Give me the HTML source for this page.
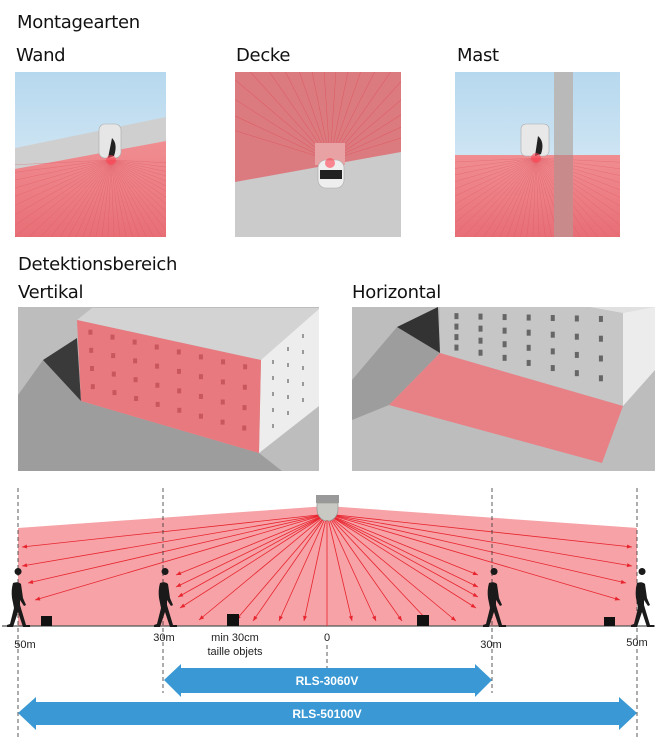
<!DOCTYPE html>
<html><head><meta charset="utf-8"><style>
html,body{margin:0;padding:0;background:#fff;}
body{width:658px;height:737px;overflow:hidden;position:relative;font-family:"Liberation Sans",sans-serif;}
.t{position:absolute;font-family:"DejaVu Sans","Liberation Sans",sans-serif;font-size:18px;color:#111;letter-spacing:-0.3px;}
</style></head><body>
<svg width="658" height="737" viewBox="0 0 658 737" style="position:absolute;left:0;top:0">
<defs>
<linearGradient id="sky" x1="0" y1="0" x2="0" y2="1"><stop offset="0" stop-color="#b6d8ee"/><stop offset="1" stop-color="#e4f0f8"/></linearGradient>
<linearGradient id="red" x1="0" y1="0" x2="0" y2="1"><stop offset="0" stop-color="#f08e92"/><stop offset="1" stop-color="#e86e76"/></linearGradient>
<clipPath id="c1"><rect x="15" y="72" width="151" height="165"/></clipPath>
<clipPath id="c2"><rect x="235" y="72" width="166" height="165"/></clipPath>
<clipPath id="c3"><rect x="455" y="72" width="165" height="165"/></clipPath>
<clipPath id="c4"><rect x="18" y="307" width="301" height="164"/></clipPath>
<clipPath id="c5"><rect x="352" y="307" width="303" height="164"/></clipPath>
</defs>

<g clip-path="url(#c1)">
<rect x="15" y="72" width="151" height="165" fill="url(#sky)"/>
<polygon points="15,148 166,117 166,237 15,237" fill="#cfcfcf"/>
<polygon points="15,169 166,141 166,237 15,237" fill="url(#red)"/>
<g stroke="#d9505a" stroke-width="0.4" opacity="0.6" id="w1"></g>
<rect x="99" y="124" width="22" height="34" rx="6" fill="#e6e6e6" stroke="#aaa" stroke-width="0.6"/>
<path d="M112 138 q6 6 2 18 l-6 2 z" fill="#222"/>
<circle cx="111" cy="160" r="5" fill="#ff4050" opacity="0.6"/>
</g>
<g clip-path="url(#c2)">
<rect x="235" y="72" width="166" height="165" fill="#cbcbcb"/>
<polygon points="235,72 401,72 401,152 235,182" fill="#db7b80"/>
<g id="w2" stroke="#e0525c" stroke-width="0.6" opacity="0.7"></g>
<rect x="315" y="143" width="30" height="22" fill="#e9a2a4"/>
<rect x="318" y="160" width="26" height="28" rx="8" fill="#eee" stroke="#aaa" stroke-width="0.6"/>
<rect x="320" y="170" width="22" height="9" fill="#222"/>
<circle cx="330" cy="163" r="5" fill="#ff4050" opacity="0.6"/>
</g>
<g clip-path="url(#c3)">
<rect x="455" y="72" width="165" height="165" fill="url(#sky)"/>
<polygon points="455,155 620,155 620,237 455,237" fill="url(#red)"/>
<g id="w3" stroke="#d9505a" stroke-width="0.4" opacity="0.6"></g>
<rect x="554" y="72" width="19" height="165" fill="#b9b9b9"/>
<rect x="554" y="155" width="19" height="82" fill="#c98a8c"/>
<rect x="521" y="124" width="28" height="32" rx="5" fill="#e8e8e8" stroke="#aaa" stroke-width="0.6"/>
<path d="M538 136 q7 6 3 18 l-6 2 z" fill="#222"/>
<circle cx="536" cy="158" r="5" fill="#ff4050" opacity="0.6"/>
</g>

<g clip-path="url(#c4)">
<rect x="18" y="307" width="301" height="164" fill="#bdbdbd"/>
<polygon points="18,395 43,360 81,401 259,453 282,471 18,471" fill="#9d9d9d"/>
<polygon points="43,360 77,338 81,401" fill="#3a3a3a"/>
<polygon points="77,320 92,308 319,308 319,312 261,360" fill="#d3d3d3"/>
<polygon points="261,360 319,309 319,406 259,453" fill="#ededed"/>
<polygon points="77,320 261,360 259,453 81,401" fill="#e8797e"/>
<g id="win1" fill="#c8575d"></g>
<g id="win1b" fill="#999"></g>
</g>
<g clip-path="url(#c5)">
<rect x="352" y="307" width="303" height="164" fill="#bdbdbd"/>
<polygon points="352,380 397,327 440,353 389,405 352,420" fill="#9d9d9d"/>
<polygon points="397,327 438,307 440,353" fill="#333"/>
<polygon points="440,307 623,307 623,406 440,353" fill="#c6c6c6"/>
<polygon points="590,307 655,307 655,310 623,313" fill="#e0e0e0"/>
<polygon points="623,313 655,307 655,370 623,406" fill="#ececec"/>
<g id="win2" fill="#666"></g>
<polygon points="440,353 623,406 602,463 389,405" fill="#ec7a80" opacity="0.9"/>
</g>

<polygon points="18,528 327,506 637,528 637,626 18,626" fill="#f6a2a6"/>
<g id="rays" stroke="#e8242e" stroke-width="0.8" fill="#e8242e"></g>
<line x1="2" y1="626" x2="655" y2="626" stroke="#555" stroke-width="1.2"/>
<rect x="316" y="495" width="23" height="8" fill="#999"/>
<path d="M317 503 h21 v6 a10.5 12 0 0 1 -21 0 z" fill="#c9c9c4" stroke="#9a9a96" stroke-width="0.8"/>
<g stroke="#333" stroke-width="0.8" stroke-dasharray="4,3">
<line x1="18" y1="488" x2="18" y2="737"/>
<line x1="637" y1="488" x2="637" y2="737"/>
<line x1="163" y1="488" x2="163" y2="693"/>
<line x1="492" y1="488" x2="492" y2="693"/>
<line x1="327" y1="645" x2="327" y2="668"/>
</g>
<line x1="327" y1="520" x2="327" y2="626" stroke="#e8242e" stroke-width="0.8"/>
<g fill="#111">
<rect x="41" y="616" width="11" height="10"/>
<rect x="227" y="614" width="12" height="12"/>
<rect x="417" y="615" width="12" height="11"/>
<rect x="604" y="617" width="11" height="9"/>
</g>
<g id="people" fill="#1a1a1a"></g>
<g font-family="Liberation Sans, sans-serif" font-size="11" fill="#222" text-anchor="middle">
<text x="25" y="648">50m</text>
<text x="164" y="641">30m</text>
<text x="235" y="641">min 30cm</text>
<text x="235" y="655">taille objets</text>
<text x="327" y="641">0</text>
<text x="491" y="648">30m</text>
<text x="637" y="646">50m</text>
</g>
<polygon points="164,680 181,664 181,668 475,668 475,664 492,680 475,697 475,693 181,693 181,697" fill="#3a99d4"/>
<polygon points="18,713 36,697 36,702 619,702 619,697 637,713 619,730 619,725 36,725 36,730" fill="#3a99d4"/>
<g font-family="Liberation Sans, sans-serif" font-size="12" font-weight="bold" fill="#fff" text-anchor="middle">
<text x="327" y="685">RLS-3060V</text>
<text x="327" y="718">RLS-50100V</text>
</g>
</svg>
<div class="t" style="left:17px;top:12px">Montagearten</div>
<div class="t" style="left:16px;top:45px">Wand</div>
<div class="t" style="left:236px;top:45px">Decke</div>
<div class="t" style="left:457px;top:45px">Mast</div>
<div class="t" style="left:18px;top:254px">Detektionsbereich</div>
<div class="t" style="left:18px;top:282px">Vertikal</div>
<div class="t" style="left:352px;top:282px">Horizontal</div>
<script>
var NS="http://www.w3.org/2000/svg";
function el(p,t,a){var e=document.createElementNS(NS,t);for(var k in a)e.setAttribute(k,a[k]);document.getElementById(p).appendChild(e);return e;}
function fan(id,cx,cy,n,r,a0,a1){for(var i=0;i<n;i++){var a=a0+(a1-a0)*i/(n-1);el(id,"line",{x1:cx,y1:cy,x2:cx+r*Math.cos(a),y2:cy+r*Math.sin(a)});}}
fan("w1",111,160,40,250,0.05,Math.PI-0.05);
fan("w2",330,160,20,250,Math.PI+0.3,2*Math.PI-0.3);
fan("w3",536,158,40,250,0.05,Math.PI-0.05);
var S=[327,514];
var pts=[[22,547],[22,566],[28,583],[35,600],[176,575],[176,587],[178,597],[180,608],[199,620],[236,620],[253,621],[279,621],[304,621],
[352,621],[376,621],[402,621],[428,621],[456,621],[476,608],[478,597],[478,587],[478,575],[632,547],[632,566],[626,583],[620,600]];
pts.forEach(function(p){var dx=p[0]-S[0],dy=p[1]-S[1],L=Math.hypot(dx,dy),ux=dx/L,uy=dy/L;
el("rays","line",{x1:S[0],y1:S[1],x2:p[0],y2:p[1]});
var bx=p[0]-ux*5,by=p[1]-uy*5;el("rays","polygon",{points:p[0]+","+p[1]+" "+(bx-uy*2)+","+(by+ux*2)+" "+(bx+uy*2)+","+(by-ux*2),stroke:"none"});});
function person(x,flip){var g=el("people","g",{transform:"translate("+x+",575)"+(flip?" scale(-1,1)":"")});
var d="M2 0 a3.5 3.5 0 1 1 0.1 0 z M-3 8 q5 -2 8 1 l2 14 l3 7 l-2 1 l-4 -6 l0 5 l6 20 l4 0 l0 2 l-7 0 l-5 -15 l-5 15 l-6 0 l0 -2 l3 -1 l4 -16 l-2 -10 q-1 -8 1 -15 z";
var p=document.createElementNS(NS,"path");p.setAttribute("d",d);g.appendChild(p);}
person(16,false);person(163,false);person(492,false);person(640,false);
for(var r=0;r<4;r++)for(var c=0;c<8;c++){var u=(c+0.5)/8.3,v=(r+0.4)/4.5;
var x=77+(261-77)*u+(81-77)*v*(1-u)+(259-261)*v*u, y=320+(360-320)*u+(401-320)*v*(1-u)+(453-360)*v*u;
el("win1","rect",{x:x,y:y,width:4,height:5});}
for(var r=0;r<4;r++)for(var c=0;c<7;c++){var u=(c+0.6)/7.6,v=(r+0.3)/4.5;
var x=440+183*u, y=310+v*(43+53*u);el("win2","rect",{x:x,y:y,width:4,height:6});}
for(var r=0;r<5;r++)for(var c=0;c<3;c++){el("win1b","rect",{x:272+c*15,y:360+r*16-c*13,width:2,height:4});}
</script>
</body></html>
